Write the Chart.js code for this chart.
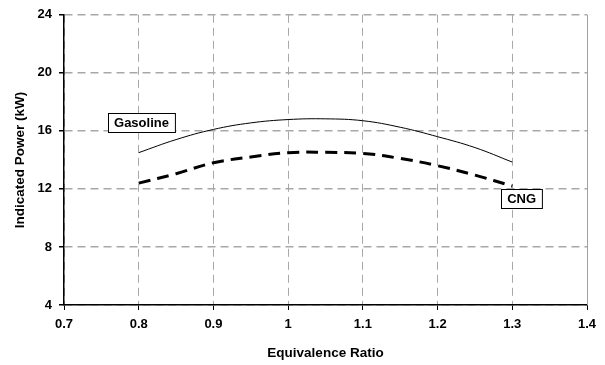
<!DOCTYPE html>
<html><head><meta charset="utf-8">
<script src="https://cdn.jsdelivr.net/npm/chart.js@4/dist/chart.umd.min.js"></script>
<style>html,body{margin:0;padding:0;background:#fff}#wrap{width:605px;height:365px}</style>
</head><body><div id="wrap"><canvas id="c" width="605" height="365"></canvas></div>
<script>
const ratio = [0.8, 0.85, 0.9, 0.95, 1.0, 1.05, 1.1, 1.15, 1.2, 1.25, 1.3];
const gasoline = [14.5, 15.4, 16.1, 16.55, 16.78, 16.83, 16.7, 16.25, 15.6, 14.85, 13.85];
const cng = [12.4, 13.05, 13.8, 14.2, 14.5, 14.52, 14.45, 14.1, 13.6, 12.95, 12.2];
const xTicks = [0.7, 0.8, 0.9, 1.0, 1.1, 1.2, 1.3, 1.4];
const yTicks = [4, 8, 12, 16, 20, 24];
const labels = [
  {text: 'Gasoline', x: 0.8037, y: 16.61},
  {text: 'CNG', x: 1.3125, y: 11.35}
];

const font = {family: 'Liberation Sans, Arial, sans-serif', size: 13, weight: 'bold'};
const titleFont = {family: 'Liberation Sans, Arial, sans-serif', size: 13.5, weight: 'bold'};

const boxPlugin = {
  id: 'boxes',
  beforeDatasetsDraw(chart) {
    const ctx = chart.ctx;
    ctx.save();
    ctx.strokeStyle = '#a0a0a0';
    ctx.lineWidth = 1;
    ctx.beginPath();
    ctx.moveTo(Math.round(chart.chartArea.right) + 0.5, chart.chartArea.top);
    ctx.lineTo(Math.round(chart.chartArea.right) + 0.5, chart.chartArea.bottom);
    ctx.stroke();
    ctx.restore();
  },
  afterDatasetsDraw(chart) {
    const ctx = chart.ctx, xs = chart.scales.x, ys = chart.scales.y;
    ctx.save();
    ctx.lineWidth = 1;
    ctx.font = 'bold 13px Liberation Sans, Arial, sans-serif';
    ctx.textAlign = 'center';
    ctx.textBaseline = 'middle';
    labels.forEach(l => {
      const cx = xs.getPixelForValue(l.x), cy = ys.getPixelForValue(l.y);
      const w = ctx.measureText(l.text).width + 12, h = 19;
      const x0 = Math.round(cx - w / 2) + 0.5, y0 = Math.round(cy - h / 2) + 0.5;
      ctx.fillStyle = '#fff';
      ctx.fillRect(x0, y0, w, h);
      ctx.strokeStyle = '#000';
      ctx.strokeRect(x0, y0, w, h);
      ctx.fillStyle = '#000';
      ctx.fillText(l.text, cx, cy + 1);
    });
    ctx.restore();
  }
};

new Chart(document.getElementById('c'), {
  type: 'line',
  data: {
    datasets: [
      {label: 'Gasoline', data: ratio.map((r, i) => ({x: r, y: gasoline[i]})), borderColor: '#000', borderWidth: 1, pointRadius: 0, tension: 0.4, fill: false},
      {label: 'CNG', data: ratio.map((r, i) => ({x: r, y: cng[i]})), borderColor: '#000', borderWidth: 3, borderDash: [12, 7], pointRadius: 0, tension: 0.4, fill: false}
    ]
  },
  options: {
    responsive: false,
    animation: false,
    devicePixelRatio: 1,
    layout: {padding: {top: 14, right: 18, left: 0, bottom: 0}},
    plugins: {legend: {display: false}, tooltip: {enabled: false}},
    scales: {
      x: {
        type: 'linear', min: 0.7, max: 1.4,
        afterBuildTicks: s => { s.ticks = xTicks.map(v => ({value: v})); },
        afterFit: s => { s.height = 60; },
        ticks: {color: '#000', font, padding: 7, maxRotation: 0, callback: v => String(Math.round(v * 10) / 10)},
        grid: {color: '#a8a8a8', lineWidth: 1, tickLength: 5, tickColor: '#000', tickBorderDash: []},
        border: {color: '#000', width: 1.5, dash: [8, 5]},
        title: {display: true, text: 'Equivalence Ratio', color: '#000', font: titleFont, padding: {top: 0, bottom: 4}}
      },
      y: {
        min: 4, max: 24,
        afterBuildTicks: s => { s.ticks = yTicks.map(v => ({value: v})); },
        afterFit: s => { s.width = 64; },
        ticks: {color: '#000', font, padding: 7},
        grid: {color: '#a8a8a8', lineWidth: 1.5, tickLength: 5, tickColor: '#000', tickBorderDash: []},
        border: {color: '#000', width: 1.5, dash: [8, 5]},
        title: {display: true, text: 'Indicated Power (kW)', color: '#000', font: titleFont, padding: {top: 12, bottom: 0}}
      }
    }
  },
  plugins: [boxPlugin]
});
</script></body></html>
